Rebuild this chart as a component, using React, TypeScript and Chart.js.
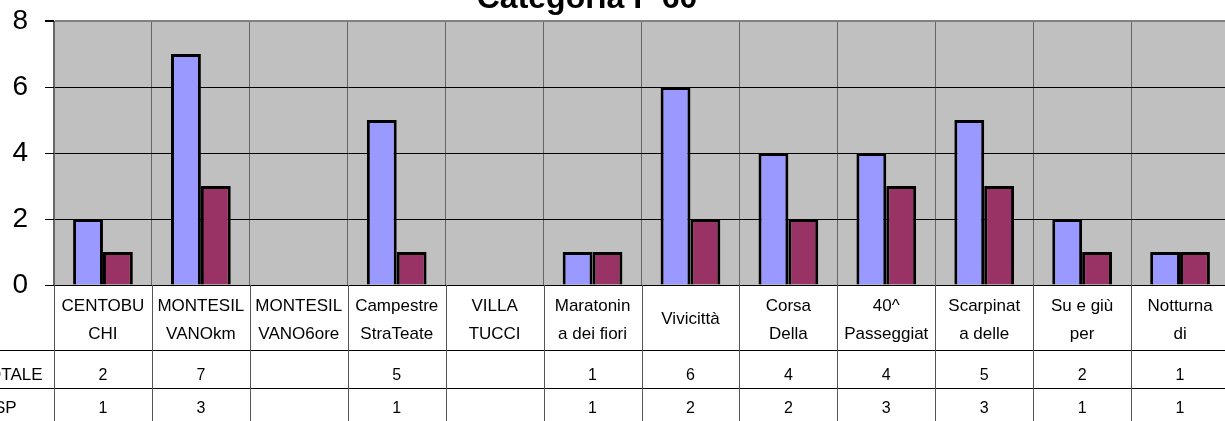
import React, { useEffect, useRef } from "react";
import { Chart, registerables } from "chart.js";

Chart.register(...registerables);

const TITLE = "Categoria F 60";
const categoryLines: string[][] = [
  ["CENTOBU", "CHI"],
  ["MONTESIL", "VANOkm"],
  ["MONTESIL", "VANO6ore"],
  ["Campestre", "StraTeate"],
  ["VILLA", "TUCCI"],
  ["Maratonin", "a dei fiori"],
  ["Vivicittà"],
  ["Corsa", "Della"],
  ["40^", "Passeggiat"],
  ["Scarpinat", "a delle"],
  ["Su e giù", "per"],
  ["Notturna", "di"],
];
const categories = categoryLines.map((l) => l.join(" "));
const seriesNames = ["TOTALE", "DISP"];
const totale: (number | null)[] = [2, 7, null, 5, null, 1, 6, 4, 4, 5, 2, 1];
const sp: (number | null)[] = [1, 3, null, 1, null, 1, 2, 2, 3, 3, 1, 1];
const yTicks = [0, 2, 4, 6, 8];

const FONT = "'Liberation Sans', Arial, sans-serif";

const tablePlugin = {
  id: "tablePlugin",
  afterDraw(chart: any) {
    const ctx = chart.ctx as CanvasRenderingContext2D;
    const area = chart.chartArea;
    const xs = chart.scales.x;
    const n = categories.length;
    const w = (area.right - area.left) / n;
    const H = chart.height;
    const W = chart.width;
    const row1 = 350;
    const row2 = 388;
    ctx.save();
    // title
    ctx.fillStyle = "#000";
    ctx.font = `bold 32px ${FONT}`;
    ctx.textAlign = "center";
    ctx.textBaseline = "alphabetic";
    ctx.fillText(TITLE, 587, 8);

    // horizontal table lines
    ctx.strokeStyle = "#000";
    ctx.lineWidth = 1;
    ctx.beginPath();
    ctx.moveTo(0, row1 + 0.5);
    ctx.lineTo(W, row1 + 0.5);
    ctx.moveTo(0, row2 + 0.5);
    ctx.lineTo(W, row2 + 0.5);
    ctx.stroke();

    // vertical lines
    ctx.strokeStyle = "#555";
    ctx.beginPath();
    for (let i = 0; i <= n; i++) {
      const xx = Math.round(area.left + i * w) + 0.5;
      ctx.moveTo(xx, area.bottom);
      ctx.lineTo(xx, H);
    }
    ctx.stroke();

    // category labels
    ctx.fillStyle = "#000";
    ctx.font = `17px ${FONT}`;
    ctx.textAlign = "center";
    for (let i = 0; i < n; i++) {
      const cx = xs.getPixelForValue(i);
      const lines = categoryLines[i];
      if (lines.length === 1) {
        ctx.fillText(lines[0], cx, 324);
      } else {
        ctx.fillText(lines[0], cx, 311);
        ctx.fillText(lines[1], cx, 339);
      }
    }
    // values
    ctx.font = `16px ${FONT}`;
    for (let i = 0; i < n; i++) {
      const cx = xs.getPixelForValue(i);
      if (totale[i] !== null) ctx.fillText(String(totale[i]), cx, 380);
      if (sp[i] !== null) ctx.fillText(String(sp[i]), cx, 413);
    }
    // series names (clipped at left edge)
    ctx.font = `17px ${FONT}`;
    ctx.textAlign = "left";
    ctx.fillText(seriesNames[0], -22, 380);
    ctx.fillText(seriesNames[1], -23, 413);
    ctx.restore();
  },
};

export default function App() {
  const ref = useRef<HTMLCanvasElement | null>(null);
  useEffect(() => {
    if (!ref.current) return;
    const chart = new Chart(ref.current, {
      type: "bar",
      data: {
        labels: categories,
        datasets: [
          {
            label: seriesNames[0],
            data: totale,
            backgroundColor: "#9999FF",
            borderColor: "#000",
            borderWidth: 3,
            categoryPercentage: 0.61,
            barPercentage: 1,
          },
          {
            label: seriesNames[1],
            data: sp,
            backgroundColor: "#993366",
            borderColor: "#000",
            borderWidth: 3,
            categoryPercentage: 0.61,
            barPercentage: 1,
          },
        ],
      },
      options: {
        animation: false,
        responsive: false,
        devicePixelRatio: 1,
        layout: { padding: { top: 21, right: 11, left: 0, bottom: 0 } },
        plugins: {
          legend: { display: false },
          title: { display: false },
          tooltip: { enabled: false },
        },
        scales: {
          x: {
            ticks: { display: false },
            grid: {
              offset: true,
              drawTicks: false,
              color: "#666",
              lineWidth: 1,
            },
            border: { display: true, color: "#000", width: 1 },
            afterFit: (s: any) => {
              s.height = 136;
              s.paddingLeft = 0;
              s.paddingRight = 0;
            },
          },
          y: {
            min: 0,
            max: 8,
            afterBuildTicks: (s: any) => {
              s.ticks = yTicks.map((v) => ({ value: v }));
            },
            ticks: {
              font: { family: FONT, size: 28 },
              color: "#000",
              padding: 17,
            },
            grid: {
              color: (c: any) => (c.tick && c.tick.value === 8 ? "#808080" : "#000"),
              lineWidth: (c: any) => (c.tick && c.tick.value === 8 ? 2 : 1),
              tickLength: 9,
              tickColor: "#000",
            },
            border: { display: true, color: "#666", width: 1 },
            afterFit: (s: any) => {
              s.width = 54;
              s.paddingTop = 0;
              s.paddingBottom = 0;
            },
          },
        },
      },
      plugins: [
        {
          id: "bg",
          beforeDraw(chart: any) {
            const { ctx, chartArea: a } = chart;
            ctx.save();
            ctx.fillStyle = "#fff";
            ctx.fillRect(0, 0, chart.width, chart.height);
            ctx.fillStyle = "#C0C0C0";
            ctx.fillRect(a.left, a.top, a.right - a.left, a.bottom - a.top);
            ctx.restore();
          },
        },
        tablePlugin,
      ],
    } as any);
    return () => chart.destroy();
  }, []);
  return (
    <div
      style={{
        position: "fixed",
        left: 0,
        top: 0,
        width: 1225,
        height: 421,
        overflow: "hidden",
        background: "#fff",
      }}
    >
      <canvas ref={ref} width={1240} height={421} style={{ display: "block" }} />
    </div>
  );
}
